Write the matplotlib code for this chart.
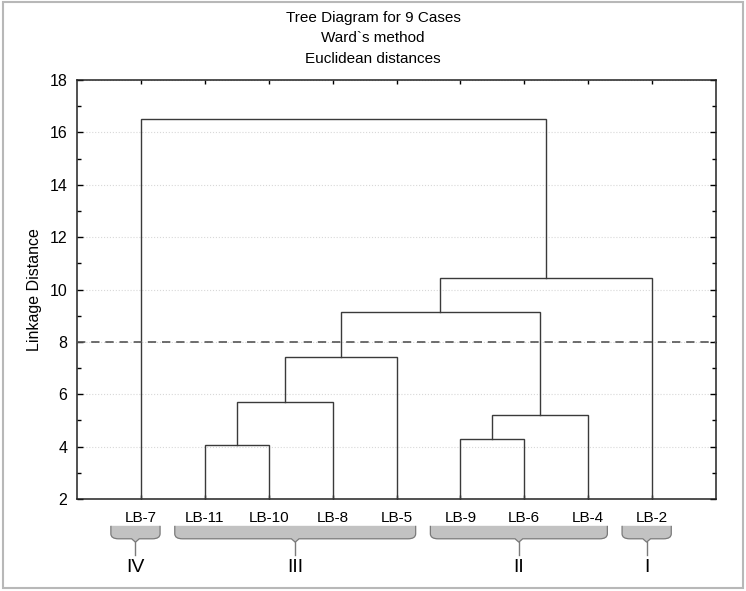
import matplotlib
matplotlib.use("Agg")
import matplotlib.pyplot as plt
from matplotlib.path import Path
from matplotlib.patches import PathPatch, Rectangle
from matplotlib.transforms import blended_transform_factory

plt.rcParams['font.family'] = ['Liberation Sans', 'DejaVu Sans']

# ---- data ----
title_lines = ["Tree Diagram for 9 Cases", "Ward`s method", "Euclidean distances"]
leaves = ["LB-7", "LB-11", "LB-10", "LB-8", "LB-5", "LB-9", "LB-6", "LB-4", "LB-2"]
# merges: node ids 0..8 are leaves, new nodes are numbered 9, 10, ...
merge_left = [1, 9, 10, 5, 12, 11, 14, 0]
merge_right = [2, 3, 4, 6, 7, 13, 8, 15]
merge_height = [4.07, 5.72, 7.42, 4.29, 5.22, 9.15, 10.43, 16.52]
cut_level = 8.0
groups = ["IV", "III", "II", "I"]
group_first = [0, 1, 5, 8]
group_last = [0, 4, 7, 8]
y_ticks = [2, 4, 6, 8, 10, 12, 14, 16, 18]

# ---- figure ----
W, H = 746, 591
fig = plt.figure(figsize=(W / 100, H / 100), dpi=100)
ax = fig.add_axes([77 / W, 1 - 499 / H, 639 / W, 419 / H])

n = len(leaves)
xpos = {i: float(i + 1) for i in range(n)}
ypos = {i: 0.0 for i in range(n)}
line_col = "#3a3a3a"
for k, (a, b, h) in enumerate(zip(merge_left, merge_right, merge_height)):
    node = n + k
    xa, xb = xpos[a], xpos[b]
    ax.plot([xa, xa, xb, xb], [ypos[a], h, h, ypos[b]], color=line_col, lw=1.0,
            solid_joinstyle='miter', zorder=3)
    xpos[node] = (xa + xb) / 2
    ypos[node] = h

ax.axhline(cut_level, color="#555555", lw=1.2, ls=(0, (5, 3.5)), zorder=4)

ax.set_xlim(0, n + 1)
ax.set_ylim(y_ticks[0], y_ticks[-1])
ax.set_yticks(y_ticks)
ax.set_yticks(range(y_ticks[0], y_ticks[-1] + 1), minor=True)
ax.set_xticks([xpos[i] for i in range(n)])
ax.set_xticklabels(leaves, fontsize=11)
ax.tick_params(axis='y', labelsize=11.5, direction='in', length=4, width=1,
               right=True, pad=7)
ax.tick_params(axis='y', which='minor', direction='in', length=3, width=1, right=True)
ax.tick_params(axis='x', direction='in', length=3, width=1, top=True, pad=9)
ax.grid(axis='y', color="#d8d8d8", ls=':', lw=0.8)
ax.set_axisbelow(True)
for s in ax.spines.values():
    s.set_linewidth(1.1)
    s.set_color("#222222")
ax.set_ylabel("Linkage Distance", fontsize=11.5)
ax.yaxis.set_label_coords(-0.054, 0.5)

# title
for i, t in enumerate(title_lines):
    fig.text(0.5, 1 - (18 + 20.5 * i) / H, t, ha='center', va='center', fontsize=11)

# brackets below leaf labels
tr = blended_transform_factory(ax.transData, ax.transAxes)
top = -0.064
bot = -0.095
stem = -0.134
rx = 0.12
ry = 0.012
edge = "#7a7a7a"
for g, f, l in zip(groups, group_first, group_last):
    x0 = xpos[f] - 0.47
    x1 = xpos[l] + 0.30
    xc = (x0 + x1) / 2
    body = [(x0, top), (x0, bot + ry), (x0, bot), (x0 + rx, bot),
            (xc - 0.06, bot), (xc, bot - 0.008), (xc + 0.06, bot),
            (x1 - rx, bot), (x1, bot), (x1, bot + ry), (x1, top)]
    codes = [Path.MOVETO, Path.LINETO, Path.CURVE3, Path.CURVE3,
             Path.LINETO, Path.LINETO, Path.LINETO,
             Path.LINETO, Path.CURVE3, Path.CURVE3, Path.LINETO]
    fill = PathPatch(Path(body + [(x0, top)], codes + [Path.CLOSEPOLY]), transform=tr,
                     facecolor="#c2c2c2", edgecolor="none", clip_on=False)
    ax.add_patch(fill)
    outline = PathPatch(Path(body, codes), transform=tr, facecolor="none",
                        edgecolor=edge, lw=0.9, clip_on=False)
    ax.add_patch(outline)
    ax.plot([xc, xc], [bot - 0.008, stem], transform=tr, color=edge, lw=1.0,
            clip_on=False)
    ax.text(xc, -0.163, g, transform=tr, ha='center', va='center', fontsize=14)

# outer frame
fig.patches.append(Rectangle((3 / W, 1 - 588 / H), 740 / W, 586 / H,
                             transform=fig.transFigure, fill=False,
                             edgecolor="#b8b8b8", lw=1.5))

fig.savefig("out.png", dpi=100)
